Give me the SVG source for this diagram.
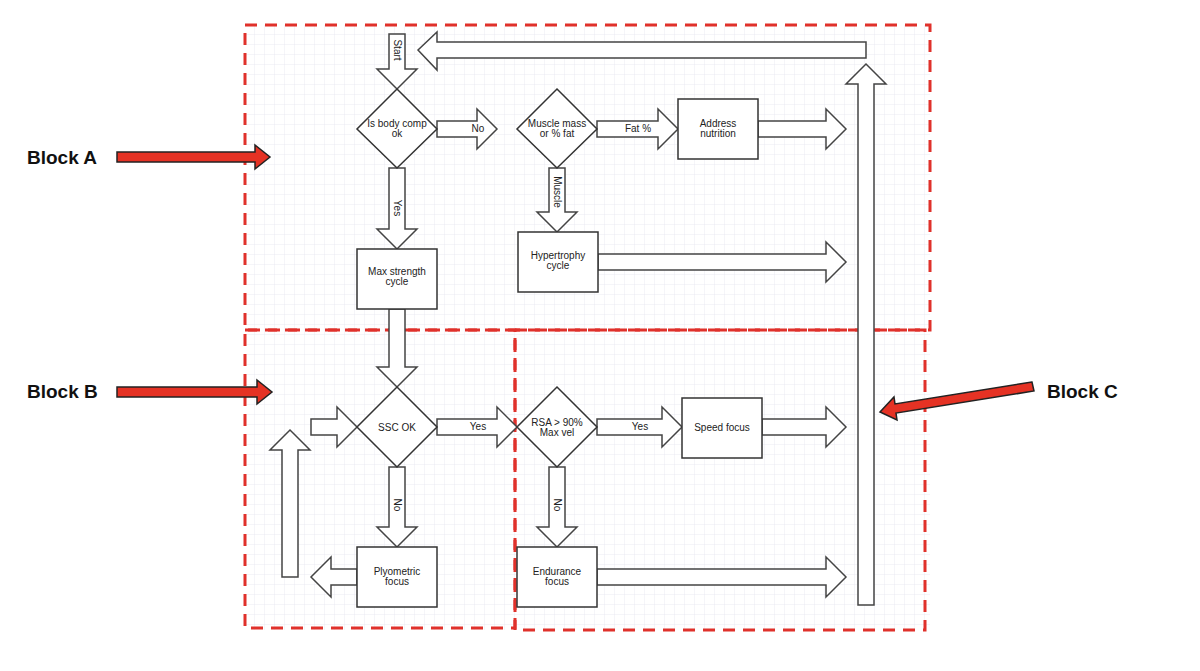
<svg xmlns="http://www.w3.org/2000/svg" width="1200" height="671" viewBox="0 0 1200 671">
<style>
.n{fill:#fff;stroke:#333;stroke-width:1.5}
.a{fill:#fff;stroke:#444;stroke-width:1.5}
.t{font-family:"Liberation Sans",Arial,sans-serif;font-size:10px;fill:#222;text-anchor:middle}
.blk{fill:none;stroke:#e0312b;stroke-width:3;stroke-dasharray:12,8}
.ra{fill:#e53224;stroke:#222;stroke-width:1.5}
.bl{font-family:"Liberation Sans",Arial,sans-serif;font-size:19px;font-weight:bold;fill:#111}
</style>
<defs>
<pattern id="g" width="10" height="10" patternUnits="userSpaceOnUse" x="245" y="25">
<path d="M10 0V10H0" fill="none" stroke="#e4e6f0" stroke-width="0.8"/>
</pattern>
</defs>
<rect width="1200" height="671" fill="#fff"/>
<rect x="245" y="25" width="685" height="605" fill="url(#g)"/>
<g id="blocks">
<rect class="blk" x="245" y="25" width="685" height="305"/>
<rect class="blk" x="245" y="330" width="270" height="298"/>
<path class="blk" d="M515 330H925V630H515Z"/>
</g>
<g id="connectors">
<polygon class="a" points="389,34 405,34 405,69 417,69 397,89 377,69 389,69"/>
<polygon class="a" points="866,42 437,42 437,32 418,50 437,70 437,58 866,58"/>
<polygon class="a" points="858,605 858,84 846,84 866,64 886,84 874,84 874,605"/>
<polygon class="a" points="437,121 477,121 477,109 497,129 477,149 477,137 437,137"/>
<polygon class="a" points="597,121 658,121 658,109 678,129 658,149 658,137 597,137"/>
<polygon class="a" points="758,121 826,121 826,109 846,129 826,149 826,137 758,137"/>
<polygon class="a" points="389,168 405,168 405,229 417,229 397,249 377,229 389,229"/>
<polygon class="a" points="549,168 565,168 565,212 577,212 557,232 537,212 549,212"/>
<polygon class="a" points="598,254 826,254 826,242 846,262 826,282 826,270 598,270"/>
<polygon class="a" points="389,309 405,309 405,367 417,367 397,387 377,367 389,367"/>
<polygon class="a" points="311,419 337,419 337,407 357,427 337,447 337,435 311,435"/>
<polygon class="a" points="282,577 282,450 270,450 290,430 310,450 298,450 298,577"/>
<polygon class="a" points="437,419 497,419 497,407 517,427 497,447 497,435 437,435"/>
<polygon class="a" points="597,419 662,419 662,407 682,427 662,447 662,435 597,435"/>
<polygon class="a" points="762,419 826,419 826,407 846,427 826,447 826,435 762,435"/>
<polygon class="a" points="389,467 405,467 405,527 417,527 397,547 377,527 389,527"/>
<polygon class="a" points="549,467 565,467 565,527 577,527 557,547 537,527 549,527"/>
<polygon class="a" points="357,569 331,569 331,557 311,577 331,597 331,585 357,585"/>
<polygon class="a" points="597,569 826,569 826,557 846,577 826,597 826,585 597,585"/>
<text class="t" transform="translate(397,50) rotate(90)" dy="3.5">Start</text>
<text class="t" x="478" y="132">No</text>
<text class="t" x="638" y="132">Fat %</text>
<text class="t" transform="translate(397,208) rotate(90)" dy="3.5">Yes</text>
<text class="t" transform="translate(557,192) rotate(90)" dy="3.5">Muscle</text>
<text class="t" x="478" y="430">Yes</text>
<text class="t" x="640" y="430">Yes</text>
<text class="t" transform="translate(397,505) rotate(90)" dy="3.5">No</text>
<text class="t" transform="translate(557,505) rotate(90)" dy="3.5">No</text>
</g>
<g id="n1"><polygon class="n" points="397,89 437,129 397,168 357,129"/><text class="t" x="397" y="127">Is body comp</text><text class="t" x="397" y="137">ok</text></g>
<g id="n2"><polygon class="n" points="557,89 597,129 557,168 517,129"/><text class="t" x="557" y="127">Muscle mass</text><text class="t" x="557" y="137">or % fat</text></g>
<g id="n3"><rect class="n" x="678" y="99" width="80" height="60"/><text class="t" x="718" y="127">Address</text><text class="t" x="718" y="137">nutrition</text></g>
<g id="n4"><rect class="n" x="357" y="249" width="80" height="60"/><text class="t" x="397" y="275">Max strength</text><text class="t" x="397" y="285">cycle</text></g>
<g id="n5"><rect class="n" x="518" y="232" width="80" height="60"/><text class="t" x="558" y="259">Hypertrophy</text><text class="t" x="558" y="269">cycle</text></g>
<g id="n6"><polygon class="n" points="397,387 437,427 397,467 357,427"/><text class="t" x="397" y="431">SSC OK</text></g>
<g id="n7"><polygon class="n" points="557,387 597,427 557,467 517,427"/><text class="t" x="557" y="426">RSA &gt; 90%</text><text class="t" x="557" y="436">Max vel</text></g>
<g id="n8"><rect class="n" x="682" y="398" width="80" height="60"/><text class="t" x="722" y="431">Speed focus</text></g>
<g id="n9"><rect class="n" x="357" y="547" width="80" height="60"/><text class="t" x="397" y="575">Plyometric</text><text class="t" x="397" y="585">focus</text></g>
<g id="n10"><rect class="n" x="517" y="547" width="80" height="60"/><text class="t" x="557" y="575">Endurance</text><text class="t" x="557" y="585">focus</text></g>
<g id="labels">
<text class="bl" x="27" y="164">Block A</text>
<polygon class="ra" points="117,152 255,152 255,145 270,157 255,169 255,162 117,162"/>
<text class="bl" x="27" y="398">Block B</text>
<polygon class="ra" points="117,387 257,387 257,380 272,392 257,404 257,397 117,397"/>
<text class="bl" x="1047" y="398">Block C</text>
<polygon class="ra" points="1032,382 895,404 894,397 880,412 897,420 896,413 1034,391"/>
</g>
</svg>
